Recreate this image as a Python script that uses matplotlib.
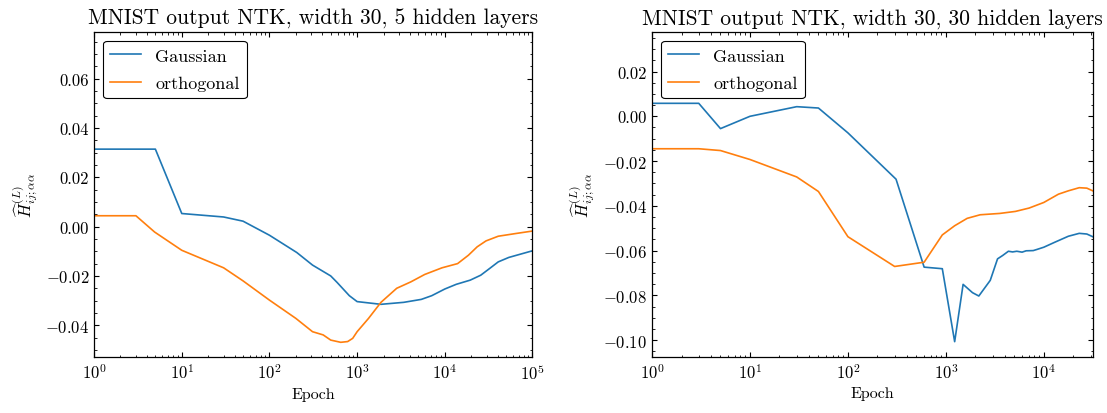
import numpy as np
import matplotlib
matplotlib.use("Agg")
import matplotlib.pyplot as plt
from matplotlib.ticker import MultipleLocator, LogLocator, NullFormatter, FuncFormatter

plt.rcParams.update({
    "font.family": "serif",
    "font.serif": ["cmr10", "DejaVu Serif"],
    "mathtext.fontset": "cm",
    "axes.formatter.use_mathtext": True,
    "axes.unicode_minus": True,
    "xtick.direction": "in",
    "ytick.direction": "in",
    "xtick.top": True,
    "ytick.right": True,
    "xtick.minor.visible": True,
    "ytick.minor.visible": True,
    "xtick.major.size": 3.5,
    "ytick.major.size": 3.5,
    "xtick.minor.size": 1.8,
    "ytick.minor.size": 1.8,
    "axes.linewidth": 0.9,
})

# ---- Left panel: 5 hidden layers ----
epoch5_gauss = [1, 5, 10, 30, 50, 100, 205, 310, 500, 590, 815, 1000, 1870, 3400,
                5400, 7100, 10000, 13500, 19500, 25700, 32400, 40700, 53700, 77600, 100000]
h5_gauss = [0.0314, 0.0314, 0.0053, 0.0039, 0.0022, -0.0035, -0.0105, -0.0156, -0.0200,
            -0.0226, -0.0280, -0.0304, -0.0315, -0.0307, -0.0295, -0.0280, -0.0253,
            -0.0234, -0.0217, -0.0197, -0.0170, -0.0143, -0.0125, -0.0109, -0.0098]

epoch5_orth = [1, 3, 4.9, 10, 30, 50, 100, 200, 310, 410, 500, 650, 780, 890, 1000, 1350,
               1870, 2830, 4100, 5900, 9300, 14000, 18600, 23400, 29500, 40700, 64600, 100000]
h5_orth = [0.0044, 0.0044, -0.0022, -0.0096, -0.0167, -0.0220, -0.0298, -0.0372, -0.0426,
           -0.0439, -0.0460, -0.0469, -0.0466, -0.0453, -0.0426, -0.0372, -0.0307, -0.0250,
           -0.0224, -0.0194, -0.0167, -0.0150, -0.0116, -0.0082, -0.0058, -0.0039, -0.0028,
           -0.0018]

# ---- Right panel: 30 hidden layers ----
epoch30_gauss = [1, 3, 5, 10, 30, 50, 100, 310, 600, 920, 1230, 1500, 1870, 2170, 2840,
                 3370, 3800, 4350, 4800, 5300, 6000, 6600, 7800, 8500, 10000, 12900, 17800,
                 23000, 27500, 31600]
h30_gauss = [0.0058, 0.0058, -0.0055, 0.0000, 0.0043, 0.0037, -0.0074, -0.0281, -0.0674,
             -0.0681, -0.1007, -0.0751, -0.0788, -0.0803, -0.0733, -0.0637, -0.0622,
             -0.0603, -0.0606, -0.0603, -0.0607, -0.0601, -0.0600, -0.0595, -0.0585,
             -0.0563, -0.0536, -0.0523, -0.0526, -0.0538]

epoch30_orth = [1, 3, 5, 10, 30, 50, 100, 300, 600, 920, 1230, 1650, 2240, 3550, 5130,
                7080, 10000, 14100, 17800, 23000, 27500, 31600]
h30_orth = [-0.0145, -0.0145, -0.0153, -0.0193, -0.0271, -0.0336, -0.0538, -0.0671,
            -0.0652, -0.0530, -0.0489, -0.0456, -0.0440, -0.0434, -0.0425, -0.0410,
            -0.0385, -0.0348, -0.0333, -0.0319, -0.0321, -0.0333]

titles = ["MNIST output NTK, width 30, 5 hidden layers",
          "MNIST output NTK, width 30, 30 hidden layers"]
labels = ["Gaussian", "orthogonal"]
ylabel = r"$\widehat{H}^{(L)}_{ij;\alpha\alpha}$"
xlabel = "Epoch"

fig = plt.figure(figsize=(11.07, 4.14), dpi=100)
ax1 = fig.add_axes([0.085, 0.135, 0.396, 0.786])
ax2 = fig.add_axes([0.589, 0.135, 0.398, 0.786])

panels = [
    (ax1, epoch5_gauss, h5_gauss, epoch5_orth, h5_orth, (1, 1e5), (-0.0529, 0.079)),
    (ax2, epoch30_gauss, h30_gauss, epoch30_orth, h30_orth, (1, 3.15e4), (-0.1076, 0.0378)),
]

for (ax, eg, hg, eo, ho, xl, yl), title in zip(panels, titles):
    ax.plot(eg, hg, color="#1f77b4", lw=1.2, label=labels[0])
    ax.plot(eo, ho, color="#ff7f0e", lw=1.2, label=labels[1])
    ax.set_xscale("log")
    ax.set_xlim(*xl)
    ax.set_ylim(*yl)
    ax.yaxis.set_major_locator(MultipleLocator(0.02))
    ax.yaxis.set_minor_locator(MultipleLocator(0.005))
    ax.xaxis.set_major_locator(LogLocator(base=10, numticks=10))
    ax.xaxis.set_minor_locator(LogLocator(base=10, subs=np.arange(2, 10), numticks=20))
    ax.xaxis.set_minor_formatter(NullFormatter())
    ax.yaxis.set_major_formatter(FuncFormatter(
        lambda v, p: ("$-$" if v < -1e-9 else "") + f"{abs(v):.2f}"))
    ax.tick_params(labelsize=12)
    ax.set_title(title, fontsize=15.5)
    ax.set_xlabel(xlabel, fontsize=11.5)
    ax.set_ylabel(ylabel, fontsize=12)
    leg = ax.legend(loc="upper left", fontsize=13, frameon=True, fancybox=True,
                    framealpha=1, edgecolor="black", handlelength=1.7,
                    labelspacing=0.65)
    leg.get_frame().set_linewidth(0.8)

fig.savefig("out.png", dpi=100)
